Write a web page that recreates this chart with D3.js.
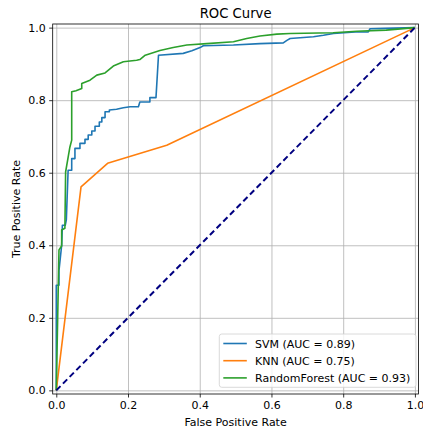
<!DOCTYPE html>
<html>
<head>
<meta charset="utf-8">
<script src="https://cdn.jsdelivr.net/npm/d3@7"></script>
<style>
    body { margin: 0; background: #fff; }
    svg text { font-family: "DejaVu Sans", sans-serif; fill: #000; }
</style>
</head>
<body>
<div id="chart"></div>
<script>
// Valores
let svmFpr = [0, 0, 0.0075, 0.0075, 0.015, 0.017, 0.025, 0.028, 0.033, 0.043, 0.043, 0.052, 0.052, 0.066, 0.066, 0.080, 0.080, 0.089, 0.089, 0.099, 0.099, 0.108, 0.108, 0.120, 0.120, 0.127, 0.127, 0.136, 0.136, 0.148, 0.148, 0.168, 0.187, 0.206, 0.229, 0.233, 0.261, 0.261, 0.278, 0.285, 0.354, 0.378, 0.401, 0.410, 0.494, 0.568, 0.633, 0.643, 0.652, 0.717, 0.745, 0.773, 0.833, 0.870, 0.875, 0.920, 1];
let svmTpr = [0, 0.29, 0.29, 0.33, 0.40, 0.455, 0.455, 0.47, 0.607, 0.607, 0.639, 0.639, 0.667, 0.667, 0.681, 0.681, 0.692, 0.692, 0.704, 0.704, 0.715, 0.715, 0.728, 0.728, 0.740, 0.740, 0.752, 0.752, 0.768, 0.768, 0.773, 0.775, 0.779, 0.782, 0.782, 0.795, 0.795, 0.807, 0.807, 0.924, 0.929, 0.936, 0.945, 0.950, 0.952, 0.956, 0.958, 0.965, 0.970, 0.975, 0.979, 0.984, 0.988, 0.988, 0.997, 0.998, 1];

let knnFpr = [0, 0.069, 0.143, 0.308, 1];
let knnTpr = [0, 0.561, 0.626, 0.676, 1];

let rfFpr = [0, 0.0075, 0.015, 0.015, 0.024, 0.026, 0.038, 0.043, 0.043, 0.055, 0.071, 0.071, 0.094, 0.113, 0.136, 0.159, 0.187, 0.224, 0.233, 0.248, 0.289, 0.326, 0.364, 0.420, 0.494, 0.531, 0.568, 0.615, 0.652, 0.772, 0.838, 0.920, 1];
let rfTpr = [0, 0.387, 0.398, 0.442, 0.447, 0.602, 0.671, 0.690, 0.823, 0.826, 0.832, 0.846, 0.855, 0.869, 0.875, 0.894, 0.906, 0.910, 0.912, 0.924, 0.937, 0.945, 0.952, 0.956, 0.961, 0.970, 0.977, 0.982, 0.984, 0.986, 0.990, 0.993, 1];

let diagX = [0, 1];
let diagY = [0, 1];

let seriesNames = ["SVM", "KNN", "RandomForest"];
let seriesAuc = [0.89, 0.75, 0.93];
let seriesColors = ["#1f77b4", "#ff7f0e", "#2ca02c"];

let xTicks = [0.0, 0.2, 0.4, 0.6, 0.8, 1.0];
let yTicks = [0.0, 0.2, 0.4, 0.6, 0.8, 1.0];

// Tamaños
let width = 423, height = 428;
let margin = { top: 24, right: 4.5, bottom: 34, left: 52.7 };
let realWidth = width - margin.left - margin.right;
let realHeight = height - margin.top - margin.bottom;
let fontSize = 11;

let svg = d3.select("#chart").append("svg")
    .attr("width", width)
    .attr("height", height);

let g = svg.append("g")
    .attr("transform", "translate(" + margin.left + "," + margin.top + ")");

let scaleX = d3.scaleLinear().domain([-0.01, 1.01]).range([0, realWidth]);
let scaleY = d3.scaleLinear().domain([-0.01, 1.01]).range([realHeight, 0]);

// grilla
g.append("g")
    .attr("class", "grid")
    .attr("transform", "translate(0," + realHeight + ")")
    .call(d3.axisBottom(scaleX).tickValues(xTicks).tickSize(-realHeight).tickFormat(""))
    .call(s => s.select(".domain").remove())
    .selectAll("line").attr("stroke", "#b0b0b0").attr("stroke-width", 0.8);

g.append("g")
    .attr("class", "grid")
    .call(d3.axisLeft(scaleY).tickValues(yTicks).tickSize(-realWidth).tickFormat(""))
    .call(s => s.select(".domain").remove())
    .selectAll("line").attr("stroke", "#b0b0b0").attr("stroke-width", 0.8);

// curvas
let line = d3.line()
    .x(d => scaleX(d[0]))
    .y(d => scaleY(d[1]));

let curves = [
    d3.zip(svmFpr, svmTpr),
    d3.zip(knnFpr, knnTpr),
    d3.zip(rfFpr, rfTpr)
];

let plot = g.append("g");

curves.forEach((c, i) => {
    plot.append("path")
        .datum(c)
        .attr("d", line)
        .attr("fill", "none")
        .attr("stroke", seriesColors[i])
        .attr("stroke-width", 1.6)
        .attr("stroke-linejoin", "round");
});

plot.append("path")
    .datum(d3.zip(diagX, diagY))
    .attr("d", line)
    .attr("fill", "none")
    .attr("stroke", "navy")
    .attr("stroke-width", 2)
    .attr("stroke-dasharray", "6,3.5");

// ejes
let ejeX = g.append("g")
    .attr("transform", "translate(0," + realHeight + ")")
    .call(d3.axisBottom(scaleX).tickValues(xTicks).tickSize(3.5).tickPadding(3.5).tickFormat(d3.format(".1f")));
ejeX.select(".domain").remove();
ejeX.selectAll("text").attr("font-size", fontSize);
ejeX.selectAll("line").attr("stroke", "#000").attr("stroke-width", 0.8);

let ejeY = g.append("g")
    .call(d3.axisLeft(scaleY).tickValues(yTicks).tickSize(3.5).tickPadding(3.5).tickFormat(d3.format(".1f")));
ejeY.select(".domain").remove();
ejeY.selectAll("text").attr("font-size", fontSize);
ejeY.selectAll("line").attr("stroke", "#000").attr("stroke-width", 0.8);

// marco
g.append("rect")
    .attr("width", realWidth)
    .attr("height", realHeight)
    .attr("fill", "none")
    .attr("stroke", "#000")
    .attr("stroke-width", 0.8);

// titulos
svg.append("text")
    .attr("x", margin.left + realWidth / 2)
    .attr("y", 18)
    .attr("text-anchor", "middle")
    .attr("font-size", 13.2)
    .text("ROC Curve");

svg.append("text")
    .attr("x", margin.left + realWidth / 2)
    .attr("y", 426)
    .attr("text-anchor", "middle")
    .attr("font-size", fontSize)
    .text("False Positive Rate");

svg.append("text")
    .attr("transform", "translate(19.5," + (margin.top + realHeight / 2) + ") rotate(-90)")
    .attr("text-anchor", "middle")
    .attr("font-size", fontSize)
    .text("True Positive Rate");

// leyenda
let legend = svg.append("g").attr("transform", "translate(219.3,334)");
legend.append("rect")
    .attr("width", 196.7)
    .attr("height", 53.3)
    .attr("rx", 2.5)
    .attr("fill", "#fff")
    .attr("fill-opacity", 0.8)
    .attr("stroke", "#d0d0d0")
    .attr("stroke-width", 0.8);

seriesNames.forEach((name, i) => {
    let yy = 9.5 + i * 17.2;
    legend.append("line")
        .attr("x1", 4).attr("x2", 27.5)
        .attr("y1", yy).attr("y2", yy)
        .attr("stroke", seriesColors[i])
        .attr("stroke-width", 1.6);
    legend.append("text")
        .attr("x", 35.7)
        .attr("y", yy + 4)
        .attr("font-size", fontSize)
        .text(name + " (AUC = " + seriesAuc[i].toFixed(2) + ")");
});
</script>
</body>
</html>
